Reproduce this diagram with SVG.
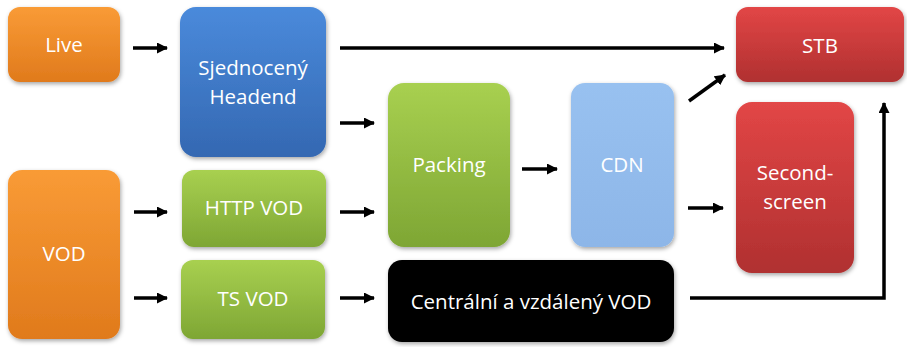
<svg xmlns="http://www.w3.org/2000/svg" width="907" height="347" viewBox="0 0 907 347">
<defs>
<linearGradient id="gOrange" x1="0" y1="0" x2="0" y2="1"><stop offset="0" stop-color="#F99B36"/><stop offset="1" stop-color="#E07A1C"/></linearGradient>
<linearGradient id="gBlue" x1="0" y1="0" x2="0" y2="1"><stop offset="0" stop-color="#4A8ADB"/><stop offset="1" stop-color="#3468B2"/></linearGradient>
<linearGradient id="gGreen" x1="0" y1="0" x2="0" y2="1"><stop offset="0" stop-color="#A8D050"/><stop offset="1" stop-color="#7EA634"/></linearGradient>
<linearGradient id="gLight" x1="0" y1="0" x2="0" y2="1"><stop offset="0" stop-color="#98C1F0"/><stop offset="1" stop-color="#8DB6E8"/></linearGradient>
<linearGradient id="gRed" x1="0" y1="0" x2="0" y2="1"><stop offset="0" stop-color="#E24646"/><stop offset="1" stop-color="#B03030"/></linearGradient>
<filter id="sh" x="-10%" y="-10%" width="125%" height="125%"><feDropShadow dx="1" dy="2" stdDeviation="2" flood-color="#000" flood-opacity="0.35"/></filter>
<marker id="ah" markerWidth="11" markerHeight="11" refX="10" refY="5.5" orient="auto" markerUnits="userSpaceOnUse"><path d="M0,0 L11,5.5 L0,11 z" fill="#000"/></marker>
</defs>
<style>
.box{filter:url(#sh);}
.t{font-family:"Open Sans","Liberation Sans",sans-serif;font-size:20.5px;fill:#fff;text-anchor:middle;}
.c line,.c path{stroke:#000;stroke-width:3.5;fill:none;marker-end:url(#ah);}
</style>
<rect width="907" height="347" fill="#fff"/>
<g id="live"><rect class="box" x="8" y="7" width="112" height="75" rx="12" fill="url(#gOrange)"/><text class="t" x="64" y="52">Live</text></g>
<g id="headend"><rect class="box" x="180" y="7" width="146" height="150" rx="16" fill="url(#gBlue)"/><text class="t" x="253" y="75">Sjednocený</text><text class="t" x="253" y="104">Headend</text></g>
<g id="vod"><rect class="box" x="8" y="170" width="112" height="169" rx="14" fill="url(#gOrange)"/><text class="t" x="64" y="261">VOD</text></g>
<g id="httpvod"><rect class="box" x="182" y="170" width="144" height="77" rx="12" fill="url(#gGreen)"/><text class="t" x="254" y="215">HTTP VOD</text></g>
<g id="tsvod"><rect class="box" x="181" y="260" width="144" height="79" rx="12" fill="url(#gGreen)"/><text class="t" x="253" y="306">TS VOD</text></g>
<g id="packing"><rect class="box" x="388" y="83" width="122" height="164" rx="16" fill="url(#gGreen)"/><text class="t" x="449" y="172">Packing</text></g>
<g id="cdn"><rect class="box" x="571" y="83" width="103" height="164" rx="14" fill="url(#gLight)"/><text class="t" x="622" y="172">CDN</text></g>
<g id="central"><rect class="box" x="388" y="260" width="286" height="82" rx="14" fill="#000"/><text class="t" x="531" y="309">Centrální a vzdálený VOD</text></g>
<g id="stb"><rect class="box" x="736" y="7" width="168" height="75" rx="12" fill="url(#gRed)"/><text class="t" x="820" y="53">STB</text></g>
<g id="second"><rect class="box" x="736" y="102" width="118" height="171" rx="16" fill="url(#gRed)"/><text class="t" x="795" y="180">Second-</text><text class="t" x="795" y="209">screen</text></g>
<g id="connectors" class="c">
<line x1="133" y1="48" x2="167" y2="48"/>
<line x1="340" y1="48" x2="724" y2="48"/>
<line x1="340" y1="123" x2="374" y2="123"/>
<line x1="134" y1="212" x2="167" y2="212"/>
<line x1="340" y1="212" x2="374" y2="212"/>
<line x1="134" y1="298" x2="167" y2="298"/>
<line x1="340" y1="298" x2="374" y2="298"/>
<line x1="522" y1="169" x2="557" y2="169"/>
<line x1="689" y1="101" x2="725" y2="75"/>
<line x1="688" y1="208" x2="723" y2="208"/>
<path d="M690,298 L884,298 L884,103"/>
</g>
</svg>
